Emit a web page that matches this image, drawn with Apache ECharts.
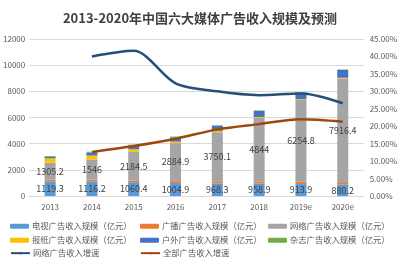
<!DOCTYPE html>
<html>
<head>
<meta charset="utf-8">
<script src="https://cdn.jsdelivr.net/npm/echarts@6/dist/echarts.min.js"></script>
<style>
  html, body { margin: 0; padding: 0; background: #fff; }
  #chart { width: 400px; height: 268px; }
</style>
</head>
<body>
<div id="chart"></div>
<script>
const years = ['2013', '2014', '2015', '2016', '2017', '2018', '2019e', '2020e']
const tvAds = [1119.3, 1116.2, 1060.4, 1004.9, 968.3, 958.9, 913.9, 880.2]
const radioAds = [130, 130, 130, 150, 160, 160, 170, 180]
const webAds = [1305.2, 1546, 2184.5, 2884.9, 3750.1, 4844, 6254.8, 7916.4]
const paperAds = [330, 300, 200, 120, 100, 80, 70, 60]
const outdoorAds = [120, 220, 290, 330, 380, 460, 500, 610]
const magazineAds = [56, 70, 60, 50, 40, 35, 30, 25]
const webGrowth = [null, 40.0, 41.6, 32.3, 30.0, 28.9, 29.4, 26.6]
const totalGrowth = [null, 12.6, 14.3, 16.4, 19.1, 20.6, 22.0, 21.3]

const names = [
  '电视广告收入规模（亿元）', '广播广告收入规模（亿元）', '网络广告收入规模（亿元）',
  '报纸广告收入规模（亿元）', '户外广告收入规模（亿元）', '杂志广告收入规模（亿元）',
  '网络广告收入增速', '全部广告收入增速'
]
const colors = ['#5b9bd5', '#ed7d31', '#a5a5a5', '#ffc000', '#4472c4', '#70ad47', '#264f78', '#9e480e']

const txt = '#595959'
const font = '"Noto Sans CJK SC", "Noto Sans", sans-serif'

function barSeries(i, data, showLabel) {
  return {
    name: names[i],
    type: 'bar',
    stack: 'ads',
    barWidth: 11,
    itemStyle: { color: colors[i] },
    label: {
      show: showLabel,
      position: 'inside',
      color: '#404040',
      fontSize: 9,
      fontFamily: font
    },
    data: data
  }
}

function lineSeries(i, data) {
  return {
    name: names[i],
    type: 'line',
    yAxisIndex: 1,
    smooth: 0.3,
    symbol: 'none',
    lineStyle: { color: colors[i], width: 2.5 },
    itemStyle: { color: colors[i] },
    data: data
  }
}

// legend slots: 3 columns x 3 rows
const legendPos = [
  [10, 222], [140, 222], [268, 222],
  [10, 236], [140, 236], [268, 236],
  [10, 249], [140, 249]
]
const legends = names.map((n, i) => ({
  data: [n],
  left: legendPos[i][0],
  top: legendPos[i][1],
  itemWidth: 19,
  itemHeight: i < 6 ? 5 : 3,
  itemGap: 3,
  textStyle: { color: txt, fontSize: 8.3, fontFamily: font, padding: [0, 0, 0, -2] },
  selectedMode: false,
  padding: 0
}))

const chart = echarts.init(document.getElementById('chart'), null, { renderer: 'canvas' })
chart.setOption({
  animation: false,
  color: colors,
  title: {
    text: '2013-2020年中国六大媒体广告收入规模及预测',
    left: 'center',
    top: 7,
    textStyle: { color: '#404040', fontSize: 13, fontWeight: 'bold', fontFamily: font }
  },
  legend: legends,
  grid: { left: 26, right: 28, top: 39, bottom: 72 },
  xAxis: {
    type: 'category',
    data: years,
    axisLine: { lineStyle: { color: '#d9d9d9' } },
    axisTick: { show: false },
    axisLabel: { color: txt, fontSize: 8, fontFamily: font, margin: 7 }
  },
  yAxis: [
    {
      type: 'value',
      min: 0,
      max: 12000,
      interval: 2000,
      axisLine: { show: false },
      axisTick: { show: false },
      splitLine: { lineStyle: { color: '#d9d9d9' } },
      axisLabel: { color: txt, fontSize: 8, fontFamily: font, margin: 4, formatter: v => String(v) }
    },
    {
      type: 'value',
      min: 0,
      max: 45,
      interval: 5,
      axisLine: { show: false },
      axisTick: { show: false },
      splitLine: { show: false },
      axisLabel: {
        color: txt, fontSize: 8, fontFamily: font, margin: 6,
        formatter: v => v.toFixed(2) + '%'
      }
    }
  ],
  series: [
    barSeries(0, tvAds, true),
    barSeries(1, radioAds, false),
    barSeries(2, webAds, true),
    barSeries(3, paperAds, false),
    barSeries(4, outdoorAds, false),
    barSeries(5, magazineAds, false),
    lineSeries(6, webGrowth),
    lineSeries(7, totalGrowth)
  ]
})
</script>
</body>
</html>
